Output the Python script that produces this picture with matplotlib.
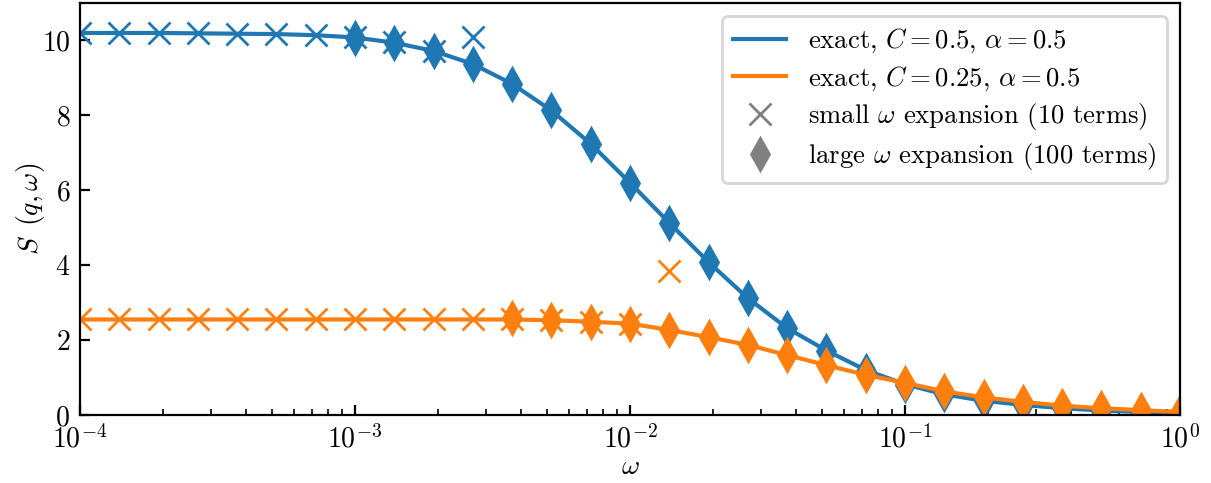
import matplotlib
matplotlib.use("Agg")
import matplotlib.pyplot as plt
from matplotlib.lines import Line2D

plt.rcParams['font.family'] = 'serif'
plt.rcParams['font.serif'] = ['cmr10']
plt.rcParams['mathtext.fontset'] = 'cm'
plt.rcParams['axes.formatter.use_mathtext'] = True
plt.rcParams['font.size'] = 10

# frequency grid (7 points per decade)
omega = [1e-4, 1.3895e-4, 1.9307e-4, 2.6827e-4, 3.7276e-4, 5.1795e-4, 7.1969e-4,
         1e-3, 1.3895e-3, 1.9307e-3, 2.6827e-3, 3.7276e-3, 5.1795e-3, 7.1969e-3,
         1e-2, 1.3895e-2, 1.9307e-2, 2.6827e-2, 3.7276e-2, 5.1795e-2, 7.1969e-2,
         1e-1, 1.3895e-1, 1.9307e-1, 2.6827e-1, 3.7276e-1, 5.1795e-1, 7.1969e-1,
         1.0]

# exact curves
exact_C05 = [10.2, 10.2, 10.2, 10.19, 10.18, 10.17, 10.14, 10.08, 9.94, 9.72,
             9.37, 8.84, 8.13, 7.24, 6.2, 5.13, 4.08, 3.12, 2.32, 1.72,
             1.2, 0.82, 0.55, 0.38, 0.27, 0.18, 0.12, 0.08, 0.05]
exact_C025 = [2.55, 2.55, 2.55, 2.55, 2.55, 2.55, 2.55, 2.55, 2.55, 2.55,
              2.55, 2.55, 2.53, 2.49, 2.44, 2.27, 2.08, 1.87, 1.6, 1.33,
              1.07, 0.86, 0.63, 0.47, 0.35, 0.25, 0.18, 0.13, 0.08]

# small-omega expansion (10 terms)
small_C05 = [10.2, 10.2, 10.2, 10.19, 10.18, 10.17, 10.14, 10.1, 9.95, 9.73, 10.09]
small_C025 = [2.55, 2.55, 2.55, 2.55, 2.55, 2.55, 2.55, 2.55, 2.55, 2.55,
              2.55, 2.56, 2.53, 2.49, 2.44, 3.84]

# large-omega expansion (100 terms)
large_C05 = [10.07, 9.93, 9.71, 9.37, 8.84, 8.13, 7.24, 6.2, 5.13, 4.08, 3.12,
             2.32, 1.72, 1.18, 0.81, 0.55, 0.38, 0.27, 0.18, 0.12, 0.08, 0.05]
large_C025 = [2.6, 2.53, 2.49, 2.44, 2.27, 2.08, 1.87, 1.6, 1.33, 1.07, 0.86,
              0.63, 0.47, 0.35, 0.25, 0.18, 0.13, 0.08]

labels = [r'exact, $C=0.5$, $\alpha=0.5$', r'exact, $C=0.25$, $\alpha=0.5$',
          r'small $\omega$ expansion (10 terms)', r'large $\omega$ expansion (100 terms)']

fig = plt.figure(figsize=(6.055, 2.415), dpi=200)
ax = fig.add_axes([80/1211, 1-415/483, 1100/1211, 412/483])

c0, c1 = '#1f77b4', '#ff7f0e'
ms = 8

ax.plot(omega, exact_C05, color=c0, lw=1.5)
ax.plot(omega[:len(small_C05)], small_C05, 'x', color=c0, ms=ms)
ax.plot(omega[len(omega)-len(large_C05):], large_C05, 'd', color=c0, ms=ms)

ax.plot(omega, exact_C025, color=c1, lw=1.5)
ax.plot(omega[:len(small_C025)], small_C025, 'x', color=c1, ms=ms)
ax.plot(omega[len(omega)-len(large_C025):], large_C025, 'd', color=c1, ms=ms)

ax.set_xscale('log')
ax.set_xlim(1e-4, 1)
ax.set_ylim(0, 11)
ax.set_yticks([0, 2, 4, 6, 8, 10])
ax.tick_params(which='both', direction='in')
ax.set_xlabel(r'$\omega$', labelpad=0)
ax.set_ylabel(r'$S\ \,(q,\omega)$', labelpad=-2)

handles = [Line2D([], [], color=c0, lw=1.5),
           Line2D([], [], color=c1, lw=1.5),
           Line2D([], [], ls='none', marker='x', color='gray', ms=ms),
           Line2D([], [], ls='none', marker='d', color='gray', ms=ms)]
ax.legend(handles, labels, loc='upper right', fontsize=9.6, labelspacing=0.33)

fig.savefig('out.png', dpi=200)
